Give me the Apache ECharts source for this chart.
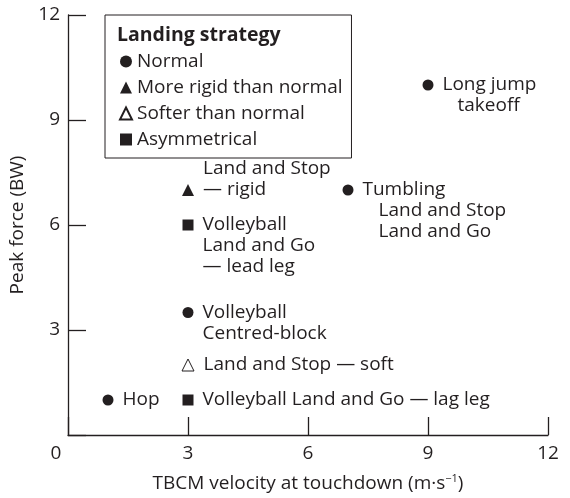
<!DOCTYPE html>
<html>
<head>
<meta charset="utf-8">
<script src="https://cdn.jsdelivr.net/npm/echarts@6/dist/echarts.min.js"></script>
<style>
  html, body { margin: 0; padding: 0; background: #fff; }
  #main { width: 570px; height: 498px; }
</style>
</head>
<body>
<div id="main"></div>
<script>
// data
var xTicks = [0, 3, 6, 9, 12];
var yTicks = [0, 3, 6, 9, 12];

var normalX = [1, 3, 7, 9];
var normalY = [1, 3.5, 7, 10];
var normalText = ['Hop', 'Volleyball\nCentred-block', 'Tumbling\n{ind|Land and Stop}\n{ind|Land and Go}', 'Long jump\n{ind2|takeoff}'];

var rigidX = [3];
var rigidY = [7];
var rigidText = ['Land and Stop\n— rigid'];

var softX = [3];
var softY = [2];
var softText = ['Land and Stop — soft'];

var asymX = [3, 3];
var asymY = [6, 1];
var asymText = ['Volleyball\nLand and Go\n— lead leg', 'Volleyball Land and Go — lag leg'];

var seriesNames = ['Normal', 'More rigid than normal', 'Softer than normal', 'Asymmetrical'];

var ink = '#231f20';
var font = '"Open Sans", "Noto Sans", sans-serif';
var fs = 19;
var lh = 21;

// label shifted so that its first line (or last line) sits on the point
function pts(xs, ys, texts, lastLineOnPoint) {
    var out = [];
    for (var i = 0; i < xs.length; i++) {
        var n = texts[i].split('\n').length;
        var dy = lastLineOnPoint ? -(n - 1) * lh / 2 : (n - 1) * lh / 2;
        out.push({
            value: [xs[i], ys[i]],
            label: { formatter: texts[i], offset: [0, dy] }
        });
    }
    return out;
}

var labelStyle = {
    show: true,
    position: 'right',
    distance: 9,
    color: ink,
    fontFamily: font,
    fontSize: fs,
    lineHeight: lh,
    rich: {
        ind: { fontFamily: font, fontSize: fs, lineHeight: lh, color: ink, padding: [0, 0, 0, 16] },
        ind2: { fontFamily: font, fontSize: fs, lineHeight: lh, color: ink, padding: [0, 0, 0, 15] }
    }
};

var myChart = echarts.init(document.getElementById('main'));
myChart.setOption({
    animation: false,
    textStyle: { fontFamily: font, color: ink },
    title: {
        text: 'Landing strategy',
        left: 117,
        top: 25,
        padding: 0,
        textStyle: { fontFamily: font, fontSize: 19.5, fontWeight: 'bold', color: ink }
    },
    legend: {
        orient: 'vertical',
        left: 105,
        top: 15,
        padding: [37, 9, 9, 14],
        itemWidth: 12,
        itemHeight: 12,
        itemGap: 7,
        itemTextGap: 9,
        borderColor: ink,
        borderWidth: 1,
        data: seriesNames,
        textStyle: { fontFamily: font, fontSize: fs, color: ink }
    },
    grid: { left: 68, right: 22, top: 15, bottom: 59 },
    xAxis: {
        type: 'value',
        min: 0,
        max: 12,
        interval: 3,
        name: '{a|TBCM velocity at touchdown (m·s}{sup|−1}{a|)}',
        nameLocation: 'middle',
        nameGap: 38,
        nameTextStyle: {
            rich: {
                a: { fontFamily: font, fontSize: fs, color: ink },
                sup: { fontFamily: font, fontSize: 11, color: ink, padding: [0, 0, 10, 0] }
            }
        },
        axisLine: { lineStyle: { color: ink, width: 1.3 } },
        axisTick: { inside: true, length: 18, lineStyle: { color: ink, width: 1.3 } },
        splitLine: { show: false },
        axisLabel: {
            margin: 9,
            color: ink,
            fontFamily: font,
            fontSize: fs,
            formatter: function (v) { return v === 0 ? '{o|0}' : String(v); },
            rich: { o: { fontFamily: font, fontSize: fs, color: ink, padding: [0, 24, 0, 0] } }
        }
    },
    yAxis: {
        type: 'value',
        min: 0,
        max: 12,
        interval: 3,
        name: 'Peak force (BW)',
        nameLocation: 'middle',
        nameGap: 33,
        nameTextStyle: { fontFamily: font, fontSize: fs, color: ink },
        axisLine: { lineStyle: { color: ink, width: 1.3 } },
        axisTick: { inside: true, length: 18, lineStyle: { color: ink, width: 1.3 } },
        splitLine: { show: false },
        axisLabel: {
            margin: 8,
            color: ink,
            fontFamily: font,
            fontSize: fs,
            formatter: function (v) { return v === 0 ? '' : String(v); }
        }
    },
    series: [
        {
            name: seriesNames[0], type: 'scatter', symbol: 'circle', symbolSize: 11,
            itemStyle: { color: ink, opacity: 1 },
            label: labelStyle,
            data: pts(normalX, normalY, normalText, false)
        },
        {
            name: seriesNames[1], type: 'scatter', symbol: 'triangle', symbolSize: 12,
            itemStyle: { color: ink, opacity: 1 },
            label: labelStyle,
            data: pts(rigidX, rigidY, rigidText, true)
        },
        {
            name: seriesNames[2], type: 'scatter', symbol: 'triangle', symbolSize: 12,
            itemStyle: { color: '#fff', borderColor: ink, borderWidth: 1, opacity: 1 },
            label: labelStyle,
            data: pts(softX, softY, softText, false)
        },
        {
            name: seriesNames[3], type: 'scatter', symbol: 'rect', symbolSize: 11,
            itemStyle: { color: ink, opacity: 1 },
            label: labelStyle,
            data: pts(asymX, asymY, asymText, false)
        }
    ]
});
</script>
</body>
</html>
